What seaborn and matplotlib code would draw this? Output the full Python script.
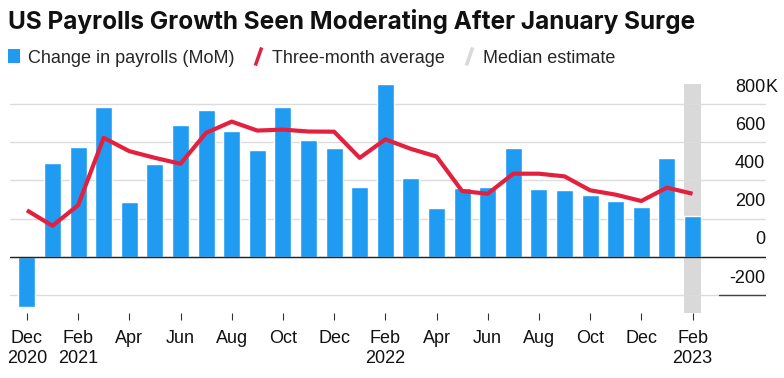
import matplotlib
matplotlib.use("Agg")
import matplotlib.pyplot as plt
from matplotlib.lines import Line2D
from matplotlib.patches import Patch
import seaborn as sns
import pandas as pd

# Monthly data, Dec 2020 .. Feb 2023 (thousands)
months = ["Dec 2020", "Jan 2021", "Feb 2021", "Mar 2021", "Apr 2021", "May 2021",
          "Jun 2021", "Jul 2021", "Aug 2021", "Sep 2021", "Oct 2021", "Nov 2021",
          "Dec 2021", "Jan 2022", "Feb 2022", "Mar 2022", "Apr 2022", "May 2022",
          "Jun 2022", "Jul 2022", "Aug 2022", "Sep 2022", "Oct 2022", "Nov 2022",
          "Dec 2022", "Jan 2023", "Feb 2023"]
payrolls = [-264, 492, 576, 783, 285, 485, 692, 770, 661, 557, 783, 614, 569, 363,
            904, 414, 254, 362, 367, 569, 357, 350, 324, 290, 259, 517, 215]
three_month_avg = [243, 162, 270, 623, 553, 518, 487, 649, 708, 661, 666, 656, 655,
                   518, 615, 565, 525, 344, 330, 435, 435, 421, 348, 325, 292, 362, 330]
estimate_month = "Feb 2023"

tick_labels = ["Dec\n2020", "Feb\n2021", "Apr", "Jun", "Aug", "Oct", "Dec",
               "Feb\n2022", "Apr", "Jun", "Aug", "Oct", "Dec", "Feb\n2023"]
y_ticks = [-200, 0, 200, 400, 600, 800]

df = pd.DataFrame({"month": months, "payrolls": payrolls, "avg": three_month_avg})
df["pos"] = range(len(df))

BLUE = "#1f9cf2"
RED = "#e3213f"
GREY = "#d9d9d9"

sns.set_theme(style="white")
plt.rcParams["font.family"] = ["Liberation Sans", "DejaVu Sans"]

fig = plt.figure(figsize=(7.84, 3.78), dpi=100)
ax = fig.add_axes([10 / 784, 1 - 313 / 378, 756 / 784, 229 / 378])

ymin, ymax = -295, 905
ax.set_ylim(ymin, ymax)

# grey band behind the median-estimate month
est = df.loc[df["month"] == estimate_month, "pos"].iloc[0]
ax.axvspan(est - 0.35, est + 0.35, color=GREY, zorder=0, lw=0)

for v in y_ticks:
    ax.axhline(v, color="#dcdcdc", lw=1, zorder=0.5)
ax.axhline(0, color="#222222", lw=1, zorder=3)
ax.axhline(-200, xmin=0.938, xmax=1, color="#444444", lw=1, zorder=3)

sns.barplot(data=df, x="pos", y="payrolls", native_scale=True, width=0.66,
            color=BLUE, saturation=1, ax=ax, zorder=2)
sns.lineplot(data=df, x="pos", y="avg", color=RED, lw=3, ax=ax, zorder=4,
             solid_capstyle="butt")

ax.set_xlim(-0.66, len(df) - 1 + 2.87)
ax.set_xticks(df["pos"][::2])
ax.set_xticklabels(tick_labels, fontsize=13, color="#111111", linespacing=1.25)
ax.tick_params(axis="x", direction="out", length=5, width=0.8, color="#333333",
               pad=7, bottom=True)
ax.set_yticks([])
ax.set_xlabel("")
ax.set_ylabel("")
for s in ax.spines.values():
    s.set_visible(False)

# right-hand value labels sitting above the gridlines
for v in y_ticks:
    ax.annotate(str(v), xy=(0.9987, v), xycoords=("axes fraction", "data"),
                xytext=(0, 6), textcoords="offset points", ha="right", va="bottom",
                fontsize=13, color="#111111")
ax.annotate("K", xy=(0.9987, 800), xycoords=("axes fraction", "data"),
            xytext=(0, 6), textcoords="offset points", ha="left", va="bottom",
            fontsize=13, color="#111111")

fig.text(8 / 784, 1 - 21 / 378, "US Payrolls Growth Seen Moderating After January Surge",
         fontsize=17.6, fontweight="bold", va="center", ha="left", color="#111111",
         family=["Inter", "Liberation Sans"])

slash = [(-0.35, -1), (0.35, 1)]
handles = [
    Patch(facecolor=BLUE, edgecolor="none"),
    Line2D([], [], color=RED, marker=slash, markersize=13, markeredgewidth=2.5,
           linestyle="None"),
    Line2D([], [], color=GREY, marker=slash, markersize=13, markeredgewidth=2.5,
           linestyle="None"),
]
fig.legend(handles, ["Change in payrolls (MoM)", "Three-month average", "Median estimate"],
           loc="center left", bbox_to_anchor=(8 / 784, 1 - 58 / 378), ncol=3,
           frameon=False, fontsize=13, handlelength=0.65, handleheight=0.8,
           handletextpad=0.45, columnspacing=1.0, borderaxespad=0, borderpad=0)

fig.savefig("out.png", dpi=100)
